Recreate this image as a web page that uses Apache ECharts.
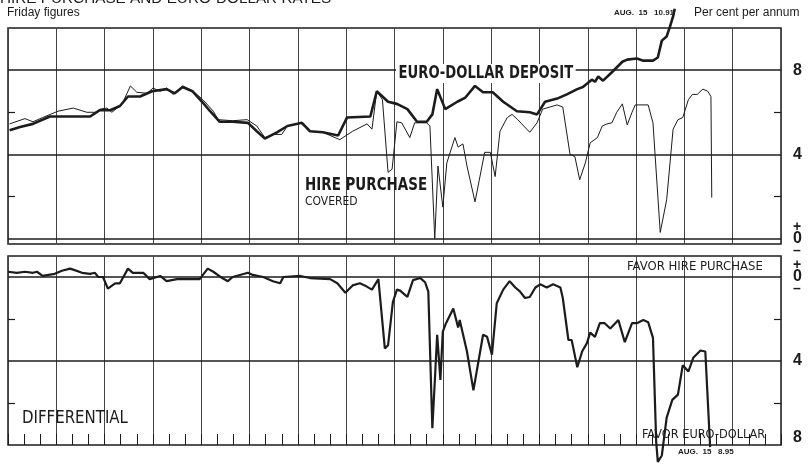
<!DOCTYPE html>
<html>
<head>
<meta charset="utf-8">
<title>Hire purchase and euro-dollar rates</title>
<script src="https://cdn.jsdelivr.net/npm/echarts@6.0.0/dist/echarts.min.js"></script>
<style>
    html, body { margin: 0; padding: 0; background: #fff; }
    #main { width: 811px; height: 466px; }
</style>
</head>
<body>
<div id="main"></div>
<script>
    // x = months from the left edge, one grid column = one quarter (Friday figures)
    var euroMonths = [0.1, 0.75, 1.55, 2.6, 3.65, 5.1, 5.7, 6.35, 6.95, 7.45, 8.2, 8.95, 9.85, 10.35, 10.85, 11.45,
        12.05, 12.55, 13.15, 13.95, 14.9, 15.45, 15.95, 16.7, 17.35, 18.25, 18.75, 19.55, 20.5, 21.05, 22.5, 22.9,
        23.6, 24.15, 24.8, 25.4, 26.0, 26.35, 26.65, 27.15, 27.9, 28.4, 29.0, 29.5, 30.1, 30.75, 31.6, 32.4,
        32.85, 33.35, 34.1, 34.7, 35.35, 35.7, 36.25, 36.45, 36.65, 36.95, 37.5, 38.15, 38.45, 39.05, 39.45, 40.05,
        40.35, 40.6, 40.9, 41.1, 41.3, 41.4];
    var euroRates = [5.15, 5.3, 5.45, 5.8, 5.8, 5.8, 6.1, 6.1, 6.3, 6.75, 6.75, 7.0, 7.1, 6.9, 7.2, 7.0,
        6.5, 6.05, 5.55, 5.55, 5.5, 5.1, 4.75, 5.05, 5.35, 5.5, 5.1, 5.05, 4.9, 5.75, 5.8, 7.0,
        6.5, 6.4, 6.15, 5.55, 5.55, 5.9, 7.1, 6.15, 6.5, 6.7, 7.25, 6.95, 6.95, 6.5, 6.05, 6.0,
        5.9, 6.5, 6.65, 6.85, 7.1, 7.2, 7.55, 7.45, 7.7, 7.5, 7.9, 8.4, 8.5, 8.55, 8.45, 8.45,
        8.6, 9.4, 9.6, 10.05, 10.55, 10.91];

    var hpMonths = [0.1, 1.05, 1.55, 2.15, 3.1, 4.05, 4.9, 5.55, 5.7, 6.15, 6.45, 6.85, 7.15, 7.6, 8.0, 8.65,
        9.0, 9.45, 9.85, 10.25, 10.85, 11.5, 12.1, 12.75, 13.05, 13.95, 14.85, 15.45, 15.95, 16.45, 17.0, 17.35,
        18.15, 18.75, 19.55, 20.6, 21.4, 22.3, 22.6, 22.9, 23.25, 23.6, 23.85, 24.15, 24.45, 24.95, 25.25, 26.0,
        26.2, 26.5, 26.7, 27.0, 27.25, 27.75, 27.95, 28.25, 28.5, 29.0, 29.6, 29.95, 30.25, 30.55, 31.0, 31.3,
        31.65, 31.9, 32.4, 32.85, 33.2, 33.65, 34.1, 34.45, 34.9, 35.2, 35.5, 35.85, 36.15, 36.6, 36.9, 37.2,
        37.5, 37.8, 38.15, 38.45, 38.75, 38.95, 39.75, 40.05, 40.5, 40.9, 41.3, 41.6, 41.9, 42.25, 42.5, 42.8,
        43.15, 43.45, 43.65, 43.7];
    var hpRates = [5.45, 5.7, 5.55, 5.75, 6.05, 6.2, 6.0, 6.0, 6.15, 6.2, 6.0, 6.25, 6.5, 7.25, 6.95, 6.9,
        7.15, 7.0, 7.15, 6.85, 7.25, 7.0, 6.6, 6.05, 5.65, 5.6, 5.65, 5.35, 4.8, 4.95, 4.95, 5.35,
        5.5, 5.1, 5.05, 4.7, 5.1, 5.45, 5.2, 7.0, 6.6, 3.15, 3.3, 5.55, 5.5, 4.8, 5.5, 5.5,
        5.35, 0.0, 3.45, 1.5, 3.6, 4.8, 4.35, 4.5, 3.45, 1.75, 4.1, 4.1, 2.95, 5.1, 5.75, 5.9,
        5.65, 5.45, 5.05, 5.5, 6.15, 6.25, 6.35, 6.25, 4.0, 3.9, 2.8, 3.6, 4.55, 4.8, 5.35, 5.45,
        5.5, 6.0, 6.4, 5.4, 6.0, 6.35, 6.35, 5.5, 0.3, 1.85, 5.2, 5.65, 5.75, 6.6, 6.85, 6.85,
        7.1, 7.0, 6.75, 1.95];

    // differential, points below zero favour euro-dollar
    var diffMonths = [0.0, 0.55, 1.05, 1.55, 1.8, 2.15, 2.9, 3.35, 3.85, 4.05, 4.6, 5.1, 5.4, 5.6, 5.9, 6.2,
        6.65, 6.95, 7.45, 7.75, 8.4, 8.8, 9.45, 9.85, 10.5, 11.9, 12.4, 12.75, 13.3, 13.65, 13.95, 14.9,
        15.2, 15.85, 16.45, 16.9, 17.1, 18.15, 18.75, 20.0, 20.45, 20.95, 21.4, 21.85, 22.15, 22.6, 23.0, 23.4,
        23.6, 23.9, 24.15, 24.35, 24.8, 24.95, 25.15, 25.6, 25.9, 26.1, 26.35, 26.5, 26.65, 26.85, 27.0, 27.2,
        27.65, 27.95, 28.05, 28.5, 28.9, 29.5, 29.75, 30.05, 30.35, 30.75, 31.15, 31.5, 31.8, 32.1, 32.4, 32.75,
        33.05, 33.45, 33.85, 34.3, 34.45, 34.8, 35.0, 35.35, 35.65, 35.95, 36.15, 36.45, 36.75, 37.05, 37.4, 37.9,
        38.3, 38.75, 39.05, 39.45, 39.75, 40.05, 40.25, 40.35, 40.6, 40.9, 41.25, 41.6, 41.9, 42.25, 42.55, 43.0,
        43.3, 43.6];
    var diffValues = [-0.25, -0.2, -0.25, -0.2, -0.25, -0.05, -0.15, -0.3, -0.4, -0.35, -0.2, -0.15, -0.2, 0.0, 0.0, 0.55,
        0.3, 0.3, -0.4, -0.2, -0.2, 0.1, -0.05, 0.2, 0.1, 0.1, -0.4, -0.25, 0.05, 0.2, 0.0, -0.2,
        -0.1, 0.0, 0.2, 0.3, 0.0, -0.05, 0.05, 0.1, 0.3, 0.75, 0.4, 0.3, 0.4, 0.6, 0.1, 3.4,
        3.25, 1.2, 0.6, 0.65, 0.95, 0.6, 0.15, 0.05, 0.25, 0.7, 7.2, 5.0, 2.75, 4.9, 2.6, 2.2,
        1.5, 2.4, 2.05, 3.55, 5.4, 2.75, 2.85, 3.7, 1.25, 0.6, 0.2, 0.5, 0.7, 1.0, 0.95, 0.5,
        0.35, 0.5, 0.35, 0.5, 1.0, 3.0, 3.0, 4.3, 3.55, 3.15, 2.65, 2.85, 2.2, 2.2, 2.45, 2.05,
        3.1, 2.2, 2.2, 2.05, 2.15, 2.9, 7.85, 8.8, 8.5, 6.7, 5.85, 5.6, 4.2, 4.5, 3.85, 3.5,
        3.55, 8.1];

    // axis labels and short ticks
    var rateLabels = [0, 4, 8];
    var rateGridLines = [0, 4, 8];
    var diffLabels = [0, 4, 8];
    var diffGridLines = [0, 4];
    var shortTicks = [2, 6];

    var ink = '#1c1c1c';
    var narrow = '"DejaVu Sans Condensed", "Liberation Sans", sans-serif';

    function pairs(xs, ys) {
        return xs.map(function (x, i) { return [x, ys[i]]; });
    }

    function sideLabel(v, isDiff) {
        if (v === 0) return '{s|+}\n{b|0}\n{s|\u2013}';
        if (isDiff && v === 8) return '{e|' + v + '}';
        return '{b|' + v + '}';
    }

    var labelRich = {
        b: { fontSize: 16, fontWeight: 'bold', color: ink, lineHeight: 14, fontFamily: 'Liberation Sans' },
        s: { fontSize: 14, fontWeight: 'bold', color: ink, lineHeight: 10, fontFamily: 'Liberation Sans' },
        e: { fontSize: 16, fontWeight: 'bold', color: ink, fontFamily: 'Liberation Sans', padding: [0, 0, 14, 0] }
    };

    function yAxisFor(grid, pos, min, max, inverse, labels, isDiff) {
        return {
            gridIndex: grid, type: 'value', position: pos, min: min, max: max, inverse: inverse,
            axisLine: { show: false },
            splitLine: { show: false },
            axisTick: { show: true, inside: true, length: 7, customValues: shortTicks, lineStyle: { color: ink, width: 1.2 } },
            axisLabel: labels ? {
                show: true, customValues: labels, margin: 12,
                formatter: function (v) { return sideLabel(v, isDiff); },
                rich: labelRich
            } : { show: false }
        };
    }

    function hLines(values) {
        return {
            silent: true, symbol: 'none', animation: false,
            label: { show: false },
            lineStyle: { color: ink, width: 1.5, type: 'solid' },
            data: values.map(function (v) { return { yAxis: v }; })
        };
    }

    // condensed caption text, squeezed a little to match the narrow type
    function caption(x, y, text, font, squeeze, bg) {
        var style = { text: text, font: font, fill: ink };
        if (bg) {
            style.backgroundColor = '#fff';
            style.padding = [1, 3];
        }
        return { type: 'text', x: x, y: y, z: 100, scaleX: squeeze, style: style };
    }

    var vGrid = { show: true, lineStyle: { color: '#444', width: 1 } };

    var myChart = echarts.init(document.getElementById('main'));

    var option = {
        animation: false,
        backgroundColor: '#fff',
        grid: [
            { left: 8, right: 30, top: 28, height: 216, show: true, borderColor: ink, borderWidth: 1.5 },
            { left: 8, right: 30, top: 256, height: 189, show: true, borderColor: ink, borderWidth: 1.5 }
        ],
        xAxis: [
            {
                gridIndex: 0, type: 'value', min: 0, max: 48, interval: 3, position: 'bottom',
                axisLine: { show: false, onZero: false }, axisTick: { show: false }, axisLabel: { show: false },
                splitLine: vGrid
            },
            {
                gridIndex: 1, type: 'value', min: 0, max: 48, interval: 3, position: 'bottom',
                axisLine: { show: false, onZero: false }, axisLabel: { show: false },
                axisTick: { show: true, inside: true, length: 11, lineStyle: { color: ink } },
                minorTick: { show: true, splitNumber: 3, length: 11, lineStyle: { color: ink, width: 1 } },
                splitLine: vGrid
            }
        ],
        yAxis: [
            yAxisFor(0, 'left', -0.25, 10, false, null, false),
            yAxisFor(0, 'right', -0.25, 10, false, rateLabels, false),
            yAxisFor(1, 'left', -1, 8, true, null, true),
            yAxisFor(1, 'right', -1, 8, true, diffLabels, true)
        ],
        graphic: [
            caption(0, -9, 'HIRE PURCHASE AND EURO-DOLLAR RATES', '15px "Liberation Sans"', 1.02),
            caption(7, 7, 'Friday figures', '12px "Liberation Sans"', 1),
            caption(614, 9, 'AUG.  15   10.91', 'bold 8px "Liberation Sans"', 1),
            caption(694, 7, 'Per cent per annum', '12px "Liberation Sans"', 1),
            caption(396, 64, 'EURO-DOLLAR DEPOSIT', 'bold 17px ' + narrow, 0.86, true),
            caption(305, 177, 'HIRE PURCHASE', 'bold 17px ' + narrow, 0.88),
            caption(305, 196, 'COVERED', '12px ' + narrow, 1),
            caption(22, 410, 'DIFFERENTIAL', '17px ' + narrow, 0.98),
            caption(627, 260, 'FAVOR HIRE PURCHASE', '13px ' + narrow, 1),
            caption(642, 428, 'FAVOR EURO-DOLLAR', '13px ' + narrow, 0.97),
            caption(678, 448, 'AUG.  15   8.95', 'bold 8px "Liberation Sans"', 1)
        ],
        series: [
            {
                name: 'Hire purchase covered', type: 'line', xAxisIndex: 0, yAxisIndex: 0,
                data: pairs(hpMonths, hpRates), symbol: 'none', clip: false,
                lineStyle: { color: ink, width: 1 },
                markLine: hLines(rateGridLines)
            },
            {
                name: 'Euro-dollar deposit', type: 'line', xAxisIndex: 0, yAxisIndex: 0,
                data: pairs(euroMonths, euroRates), symbol: 'none', clip: false,
                lineStyle: { color: ink, width: 2.6 }
            },
            {
                name: 'Differential', type: 'line', xAxisIndex: 1, yAxisIndex: 2,
                data: pairs(diffMonths, diffValues), symbol: 'none', clip: false,
                lineStyle: { color: ink, width: 2.2 },
                markLine: hLines(diffGridLines)
            }
        ]
    };
    myChart.setOption(option);
</script>
</body>
</html>
